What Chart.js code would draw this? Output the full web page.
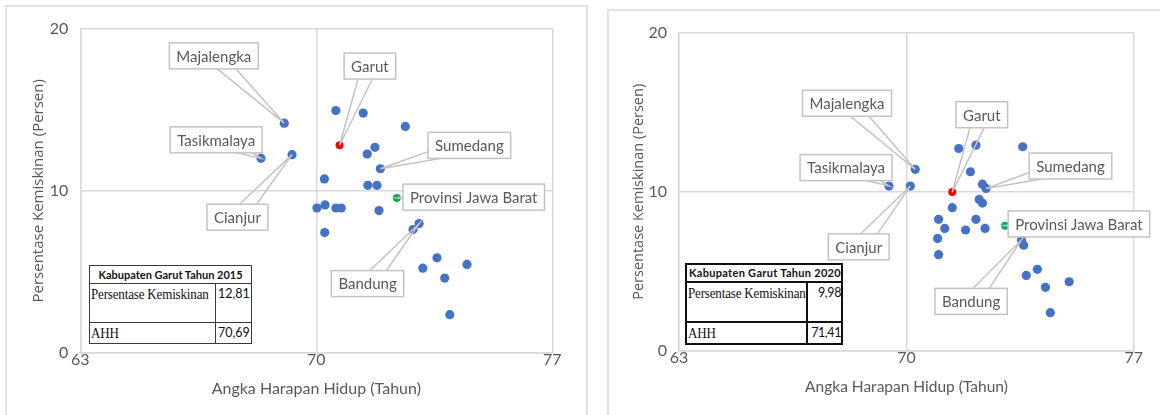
<!DOCTYPE html>
<html>
<head>
<meta charset="utf-8">
<script src="https://cdn.jsdelivr.net/npm/chart.js@4.4.1/dist/chart.umd.min.js"></script>
<style>
  body { margin: 0; background: #fff; width: 1160px; height: 415px; overflow: hidden; position: relative; }
  .panel { position: absolute; border: 2px solid #e2e2e2; box-sizing: border-box; }
  canvas { position: absolute; }
  table.tbl { position: absolute; border-collapse: collapse; background: #fff; table-layout: fixed; }
  table.tbl td, table.tbl th { padding: 0 2px; vertical-align: top; white-space: nowrap; overflow: hidden; }
  .t1 td, .t1 th { border: 1.5px solid #3a3a3a; }
  .t2 td, .t2 th { border: 2px solid #111; }
  .t1 th { font: bold 11px Lato, sans-serif; color: #111; height: 17px; line-height: 17px; }
  .t2 th { font: bold 11px Lato, sans-serif; letter-spacing: 0.3px; color: #111; height: 16px; line-height: 16px; }
  .tbl td.lbl { font: 15.5px "Liberation Serif", serif; color: #111; line-height: 20px; padding-left: 1px; }
  .tbl td.lbl span { display: inline-block; transform: scaleX(0.84); transform-origin: left center; letter-spacing: -0.2px; }
  .t1 td.num { font: 12.5px Lato, sans-serif; text-align: right; color: #111; line-height: 20px; }
  .t2 td.num { font: 12.5px Lato, sans-serif; letter-spacing: -0.4px; text-align: right; color: #111; line-height: 20px; padding-right: 0; }
</style>
</head>
<body>
<div class="panel" style="left:5px;top:5px;width:583px;height:420px;"></div>
<div class="panel" style="left:607px;top:9px;width:560px;height:420px;"></div>
<canvas id="chart2015" width="578" height="408" style="left:7px;top:7px;"></canvas>
<canvas id="chart2020" width="551" height="404" style="left:609px;top:11px;"></canvas>

<table class="tbl t1" style="left:89px;top:265px;width:162px;">
  <colgroup><col style="width:126px"><col style="width:36px"></colgroup>
  <tr><th colspan="2" id="head2015"></th></tr>
  <tr style="height:39px"><td class="lbl"><span>Persentase Kemiskinan</span></td><td class="num" id="pov2015"></td></tr>
  <tr style="height:20px"><td class="lbl"><span>AHH</span></td><td class="num" id="ahh2015"></td></tr>
</table>
<table class="tbl t2" style="left:685px;top:263px;width:156px;">
  <colgroup><col style="width:121px"><col style="width:35px"></colgroup>
  <tr><th colspan="2" id="head2020"></th></tr>
  <tr style="height:40px"><td class="lbl"><span>Persentase Kemiskinan</span></td><td class="num" id="pov2020"></td></tr>
  <tr style="height:19px"><td class="lbl"><span>AHH</span></td><td class="num" id="ahh2020"></td></tr>
</table>

<script>
// axis ticks
const xTicks = [63, 70, 77];
const yTicks = [0, 10, 20];

// 2015 - kabupaten/kota (AHH, persentase kemiskinan)
const names2015 = ['Majalengka', 'Tasikmalaya', 'Cianjur', 'Sumedang', 'Bandung',
  '', '', '', '', '', '', '', '', '', '', '', '', '', '', '', '', '', '', '', ''];
const ahh2015 = [69.05, 68.36, 69.28, 71.90, 73.05,
  70.58, 71.39, 72.64, 71.51, 71.74, 70.24, 71.53, 71.80, 70.02, 70.26,
  70.58, 70.74, 71.86, 70.25, 72.87, 73.58, 73.16, 74.47, 73.81, 73.96];
const miskin2015 = [14.17, 12.00, 12.23, 11.36, 7.98,
  14.95, 14.79, 13.97, 12.27, 12.68, 10.73, 10.34, 10.34, 8.94, 9.13,
  8.94, 8.94, 8.78, 7.43, 7.61, 5.87, 5.23, 5.46, 4.62, 2.36];
const garut2015 = { ahh: 70.69, miskin: 12.81 };
const jabar2015 = { ahh: 72.39, miskin: 9.56 };

// 2020
const names2020 = ['Majalengka', 'Tasikmalaya', 'Cianjur', 'Sumedang', 'Bandung',
  '', '', '', '', '', '', '', '', '', '', '', '', '', '', '', '', '', '', '', ''];
const ahh2020 = [70.27, 69.46, 70.12, 72.45, 73.54,
  71.61, 72.14, 73.58, 71.97, 72.34, 72.24, 72.34, 71.41, 70.99, 72.14,
  71.18, 71.82, 72.42, 70.96, 70.99, 73.61, 74.03, 73.69, 75.01, 74.28, 74.43];
const miskin2020 = [11.41, 10.36, 10.36, 10.21, 6.97,
  12.72, 12.93, 12.83, 11.26, 10.48, 9.52, 9.29, 9.00, 8.27, 8.27,
  7.70, 7.60, 7.70, 7.07, 6.05, 6.65, 5.13, 4.75, 4.35, 4.00, 2.41];
const garut2020 = { ahh: 71.41, miskin: 9.98 };
const jabar2020 = { ahh: 73.04, miskin: 7.87 };

// callout box centres, in axis units
const callouts2015 = {
  'Majalengka': [66.96, 18.32], 'Garut': [71.59, 17.69], 'Tasikmalaya': [67.03, 13.14],
  'Cianjur': [67.66, 8.37], 'Sumedang': [74.54, 12.8], 'Provinsi Jawa Barat': [74.67, 9.61],
  'Bandung': [71.52, 4.28]
};
const callouts2020 = {
  'Majalengka': [68.17, 15.56], 'Garut': [72.32, 14.84], 'Tasikmalaya': [68.14, 11.52],
  'Cianjur': [68.53, 6.54], 'Sumedang': [75.05, 11.62], 'Provinsi Jawa Barat': [75.31, 7.98],
  'Bandung': [71.99, 3.12]
};

const GRAY = '#595959';
const fmt = v => v.toFixed(2).replace('.', ',');

// draws the excel-like wedge callouts
const calloutPlugin = {
  id: 'callouts',
  afterDatasetsDraw(chart, args, opts) {
    const ctx = chart.ctx;
    const xs = chart.scales.x, ys = chart.scales.y;
    ctx.save();
    ctx.font = '15px Lato';
    ctx.lineWidth = 1.5;
    ctx.strokeStyle = '#c3c3c3';
    opts.items.forEach(item => {
      const tx = xs.getPixelForValue(item.pt[0]), ty = ys.getPixelForValue(item.pt[1]);
      const cx = xs.getPixelForValue(item.box[0]), cy = ys.getPixelForValue(item.box[1]);
      const w = ctx.measureText(item.text).width + 14, h = 26;
      // wedge
      const dx = tx - cx, dy = ty - cy, len = Math.hypot(dx, dy);
      const nx = -dy / len * 8, ny = dx / len * 8;
      ctx.beginPath();
      ctx.moveTo(cx + nx, cy + ny);
      ctx.lineTo(tx, ty);
      ctx.lineTo(cx - nx, cy - ny);
      ctx.stroke();
      // box
      ctx.fillStyle = '#fff';
      ctx.fillRect(cx - w / 2, cy - h / 2, w, h);
      ctx.strokeRect(cx - w / 2, cy - h / 2, w, h);
      ctx.fillStyle = GRAY;
      ctx.textAlign = 'center';
      ctx.textBaseline = 'middle';
      ctx.fillText(item.text, cx, cy + 1);
    });
    ctx.restore();
  }
};

function buildCallouts(names, xs, ys, garut, jabar, boxes) {
  const items = [];
  names.forEach((n, i) => {
    if (n && boxes[n]) items.push({ text: n, pt: [xs[i], ys[i]], box: boxes[n] });
  });
  items.push({ text: 'Garut', pt: [garut.ahh, garut.miskin], box: boxes['Garut'] });
  items.push({ text: 'Provinsi Jawa Barat', pt: [jabar.ahh, jabar.miskin], box: boxes['Provinsi Jawa Barat'] });
  return items;
}

function makeChart(id, d) {
  const pts = d.ahh.map((v, i) => ({ x: v, y: d.miskin[i] }));
  return new Chart(document.getElementById(id), {
    type: 'scatter',
    data: {
      datasets: [
        { data: pts, backgroundColor: '#4472C4', borderColor: '#4472C4', pointRadius: 4.6, pointBorderWidth: 0 },
        { data: [{ x: d.garut.ahh, y: d.garut.miskin }], backgroundColor: '#FF0000', borderColor: '#FF0000', pointRadius: 4, pointBorderWidth: 0 },
        { data: [{ x: d.jabar.ahh, y: d.jabar.miskin }], backgroundColor: '#00B050', borderColor: '#00B050', pointRadius: 4, pointBorderWidth: 0 }
      ]
    },
    options: {
      responsive: false,
      animation: false,
      layout: { padding: { top: d.padTop, right: d.padRight, left: 0, bottom: 0 } },
      plugins: {
        legend: { display: false },
        tooltip: { enabled: false },
        callouts: { items: d.callouts }
      },
      scales: {
        x: {
          type: 'linear', min: 63, max: 77,
          afterBuildTicks: s => { s.ticks = xTicks.map(v => ({ value: v })); },
          afterFit: s => { s.height = d.xHeight; },
          grid: { color: '#d9d9d9', lineWidth: 1.5, drawTicks: false },
          border: { color: '#d9d9d9', width: 1.5 },
          ticks: { padding: -3, color: GRAY, font: { family: 'Lato', size: 16 } },
          title: { display: true, text: 'Angka Harapan Hidup (Tahun)', color: GRAY,
            font: { family: 'Lato', size: d.xTitleSize }, padding: { top: 0, bottom: d.xTitlePad } }
        },
        y: {
          type: 'linear', min: 0, max: 20,
          afterBuildTicks: s => { s.ticks = yTicks.map(v => ({ value: v })); },
          afterFit: s => { s.width = d.yWidth; },
          grid: { color: '#d9d9d9', lineWidth: 1.5, drawTicks: false },
          border: { color: '#d9d9d9', width: 1.5 },
          ticks: { padding: 12, color: GRAY, font: { family: 'Lato', size: 16 } },
          title: { display: true, text: 'Persentase Kemiskinan (Persen)', color: GRAY,
            font: { family: 'Open Sans', size: d.yTitleSize }, padding: { top: d.yTitlePad, bottom: 0 } }
        }
      }
    },
    plugins: [calloutPlugin]
  });
}

makeChart('chart2015', {
  ahh: ahh2015, miskin: miskin2015, garut: garut2015, jabar: jabar2015,
  callouts: buildCallouts(names2015, ahh2015, miskin2015, garut2015, jabar2015, callouts2015),
  padTop: 21, padRight: 32.7, xHeight: 62, yWidth: 73.3,
  xTitleSize: 16, xTitlePad: 17, yTitleSize: 15, yTitlePad: 23
});

makeChart('chart2020', {
  ahh: ahh2020, miskin: miskin2020, garut: garut2020, jabar: jabar2020,
  callouts: buildCallouts(names2020, ahh2020, miskin2020, garut2020, jabar2020, callouts2020),
  padTop: 21.3, padRight: 26.2, xHeight: 64, yWidth: 70.1,
  xTitleSize: 15.5, xTitlePad: 19, yTitleSize: 14.5, yTitlePad: 21
});

document.getElementById('head2015').textContent = 'Kabupaten Garut Tahun 2015';
document.getElementById('pov2015').textContent = fmt(garut2015.miskin);
document.getElementById('ahh2015').textContent = fmt(garut2015.ahh);
document.getElementById('head2020').textContent = 'Kabupaten Garut Tahun 2020';
document.getElementById('pov2020').textContent = fmt(garut2020.miskin);
document.getElementById('ahh2020').textContent = fmt(garut2020.ahh);
</script>
</body>
</html>
